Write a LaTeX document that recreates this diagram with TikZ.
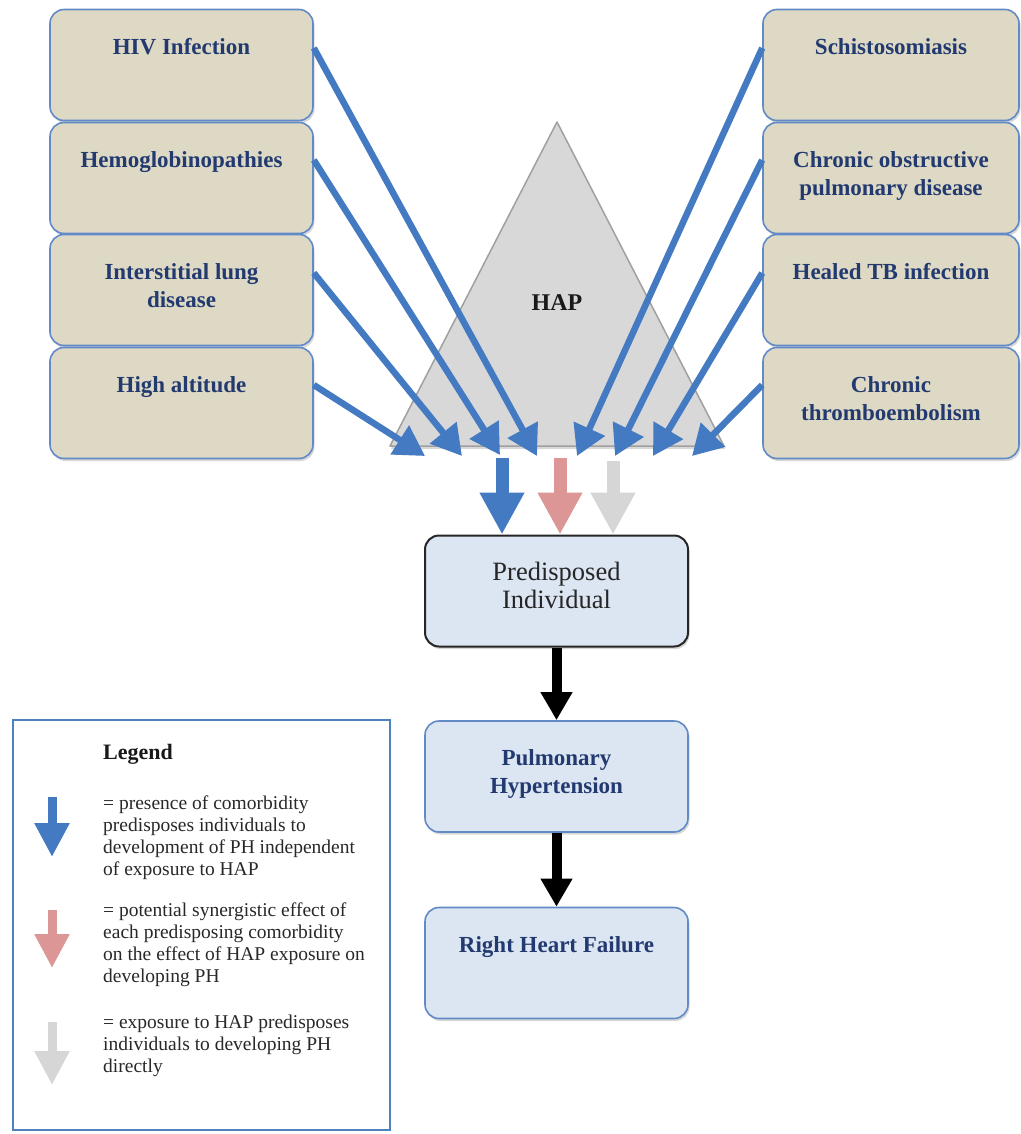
\documentclass[tikz,border=0pt]{standalone}
\usepackage{fontspec}
\setmainfont{Liberation Serif}
\usetikzlibrary{arrows.meta,shadows}
\definecolor{boxtan}{RGB}{221,217,196}
\definecolor{boxedge}{RGB}{98,138,198}
\definecolor{navy}{RGB}{35,58,112}
\definecolor{arrblue}{RGB}{68,122,194}
\definecolor{arrpink}{RGB}{219,150,149}
\definecolor{arrgray}{RGB}{214,214,214}
\definecolor{trifill}{RGB}{216,216,216}
\definecolor{triedge}{RGB}{160,160,160}
\definecolor{lightblue}{RGB}{220,230,242}
\definecolor{legedge}{RGB}{79,129,189}
\definecolor{legtext}{RGB}{40,40,40}
\newcommand\toptxt[1]{\parbox[c][111pt][t]{245pt}{\centering\vspace*{25pt}\leavevmode\strut#1}}
\tikzset{
  sbox/.style={draw=boxedge, line width=1.6pt, rounded corners=14pt,
    minimum height=111pt, inner sep=0pt, text=navy,
    font=\bfseries\fontsize{23}{28}\selectfont,
    drop shadow={shadow xshift=1.5pt, shadow yshift=-2.5pt, opacity=0.3}},
  lbox/.style={sbox, fill=boxtan, minimum width=263pt},
  rbox/.style={sbox, fill=boxtan, minimum width=256pt},
  mbox/.style={sbox, fill=lightblue, minimum width=263pt},
  diag/.style={color=arrblue, line width=6.5pt, -{Triangle[width=33pt,length=30pt]}},
  bigarr/.style={line width=13pt, -{Triangle[width=42pt,length=42pt]}},
  blkarr/.style={color=black, line width=10pt, -{Triangle[width=30pt,length=28pt]}},
  legarr/.style={line width=9pt, -{Triangle[width=33pt,length=34pt]}},
  legtxt/.style={anchor=north west, align=left, inner sep=0pt, text=legtext,
    font=\fontsize{19.5}{22}\selectfont}
}
\begin{document}
\begin{tikzpicture}[x=1pt,y=-1pt]
\fill[white] (0,0) rectangle (1020,1134);
\useasboundingbox (0,0) rectangle (1020,1134);

% HAP triangle
\coordinate (triL) at (390,446);
\coordinate (triR) at (724,446);
\coordinate (triT) at (557,122);
\filldraw[fill=trifill, draw=triedge, line width=1.5pt, line join=round,
  drop shadow={shadow xshift=1pt, shadow yshift=-3pt, opacity=0.3}]
  (triL) -- (triR) -- (triT) -- cycle;
\node[font=\bfseries\fontsize{24}{28}\selectfont, text=black!90] (hap) at (557,303) {HAP};

% left comorbidities
\node[lbox] (hiv)  at (181.5,65)  {\toptxt{HIV Infection}};
\node[lbox] (hemo) at (181.5,178) {\toptxt{Hemoglobinopathies}};
\node[lbox] (ild)  at (181.5,290) {\toptxt{Interstitial lung\\disease}};
\node[lbox] (alt)  at (181.5,403) {\toptxt{High altitude}};

% right comorbidities
\node[rbox] (schi) at (891,65)  {\toptxt{Schistosomiasis}};
\node[rbox] (copd) at (891,178) {\toptxt{Chronic obstructive\\pulmonary disease}};
\node[rbox] (tb)   at (891,290) {\toptxt{Healed TB infection}};
\node[rbox] (cte)  at (891,403) {\toptxt{Chronic\\thromboembolism}};

% middle chain
\node[mbox, draw=black!85, line width=2pt, text=black!85,
  font=\fontsize{26.5}{28}\selectfont] (pred) at (556.5,591) {\toptxt{Predisposed\\Individual}};
\node[mbox] (ph)  at (556.5,776.5) {\toptxt{Pulmonary\\Hypertension}};
\node[mbox] (rhf) at (556.5,963)   {\toptxt{Right Heart Failure}};

\draw[blkarr] (pred.south) -- (ph.north);
\draw[blkarr] (ph.south) -- (rhf.north);

% arrow tips at the triangle base
\coordinate (tl1) at (425,456);
\coordinate (tl2) at (462,456);
\coordinate (tl3) at (500,455);
\coordinate (tl4) at (537,456);
\coordinate (tr1) at (577,456);
\coordinate (tr2) at (615,456);
\coordinate (tr3) at (653,456);
\coordinate (tr4) at (692,456);

\draw[diag] ([yshift=17pt]hiv.east)  -- (tl4);
\draw[diag] ([yshift=18pt]hemo.east) -- (tl3);
\draw[diag] ([yshift=17pt]ild.east)  -- (tl2);
\draw[diag] ([yshift=18pt]alt.east)  -- (tl1);
\draw[diag] ([yshift=17pt]schi.west) -- (tr1);
\draw[diag] ([yshift=18pt]copd.west) -- (tr2);
\draw[diag] ([yshift=17pt]tb.west)   -- (tr3);
\draw[diag] ([yshift=18pt]cte.west)  -- (tr4);

% three effect arrows
\coordinate (cb) at (502,458);
\coordinate (cr) at (560,458);
\coordinate (cg) at (613,461);
\draw[bigarr, color=arrblue] (cb) -- (cb |- pred.north);
\draw[bigarr, color=arrpink] (cr) -- (cr |- pred.north);
\draw[bigarr, color=arrgray] (cg) -- (cg |- pred.north);

% legend
\node[draw=legedge, line width=2pt, minimum width=377pt, minimum height=410pt,
  inner sep=0pt] (legend) at (201.5,925) {};
\node[anchor=base west, inner sep=0pt, font=\bfseries\fontsize{22}{26}\selectfont,
  text=black!90] (legt) at (103,759) {Legend};
\node[legtxt] (leg1) at (103,796) {= presence of comorbidity\\predisposes individuals to\\development of PH independent\\of exposure to HAP};
\node[legtxt] (leg2) at (103,903) {= potential synergistic effect of\\each predisposing comorbidity\\on the effect of HAP exposure on\\developing PH};
\node[legtxt] (leg3) at (103,1015) {= exposure to HAP predisposes\\individuals to developing PH\\directly};

\coordinate (lb0) at (52,797);
\coordinate (lb1) at (52,857);
\coordinate (lr0) at (52,910);
\coordinate (lr1) at (52,968);
\coordinate (lg0) at (52,1022);
\coordinate (lg1) at (52,1085);
\draw[legarr, color=arrblue] (lb0) -- (lb1);
\draw[legarr, color=arrpink] (lr0) -- (lr1);
\draw[legarr, color=arrgray] (lg0) -- (lg1);
\end{tikzpicture}
\end{document}
